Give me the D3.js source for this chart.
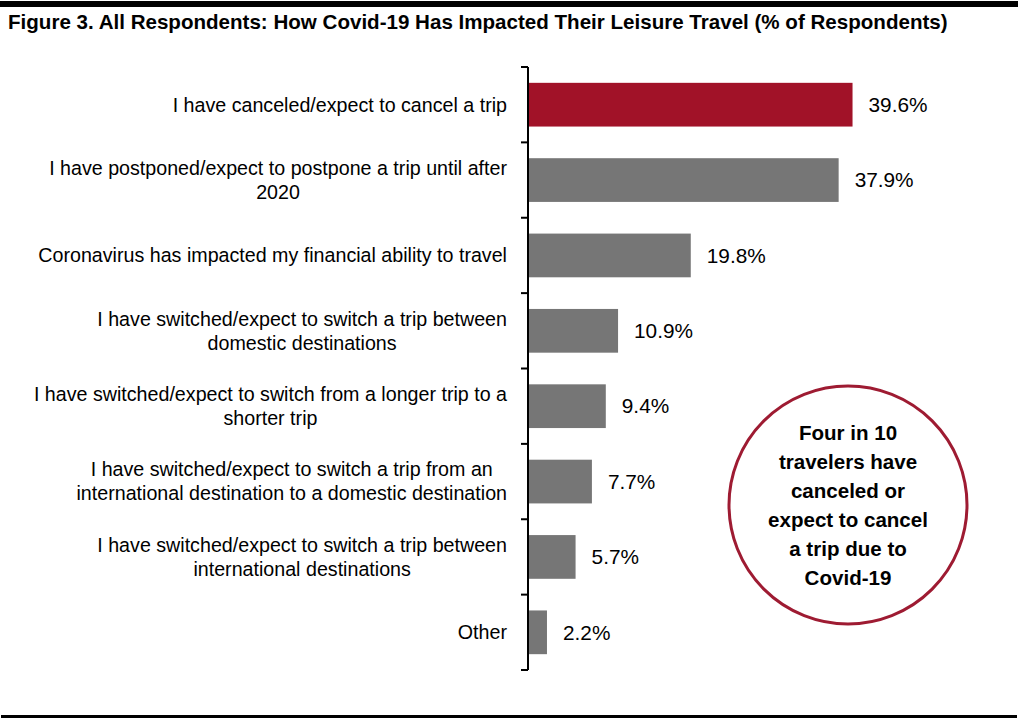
<!DOCTYPE html>
<html><head><meta charset="utf-8">
<script src="https://cdn.jsdelivr.net/npm/d3@7"></script>
<style>body{margin:0;background:#fff}svg{display:block}text{font-family:"Liberation Sans",Arial,sans-serif}</style>
</head><body><svg id="c" width="1018" height="720"></svg>
<script>
const categories = [
  ["I have canceled/expect to cancel a trip"],
  ["I have postponed/expect to postpone a trip until after","2020"],
  ["Coronavirus has impacted my financial ability to travel"],
  ["I have switched/expect to switch a trip between","domestic destinations"],
  ["I have switched/expect to switch from a longer trip to a","shorter trip"],
  ["I have switched/expect to switch a trip from an","international destination to a domestic destination"],
  ["I have switched/expect to switch a trip between","international destinations"],
  ["Other"]
];
const values = [39.6, 37.9, 19.8, 10.9, 9.4, 7.7, 5.7, 2.2];
const title = "Figure 3. All Respondents: How Covid-19 Has Impacted Their Leisure Travel (% of Respondents)";
const calloutLines = ["Four in 10","travelers have","canceled or","expect to cancel","a trip due to","Covid-19"];

const svg = d3.select("#c");
const W = 1018;
const red = "#A11228", grey = "#767676";

// frame lines
svg.append("rect").attr("x",0).attr("y",1).attr("width",W).attr("height",6).attr("fill","#000");
svg.append("rect").attr("x",1).attr("y",715).attr("width",1016).attr("height",3).attr("fill","#000");

function fit(sel, target){
  const w = sel.node().getComputedTextLength();
  const fs = parseFloat(sel.attr("font-size"));
  sel.attr("font-size", fs*target/w);
  return fs*target/w;
}

const t = svg.append("text").attr("x",8).attr("y",29).attr("font-size",20).attr("font-weight","bold").text(title);
fit(t, 940);

const x0 = 529;
const x = d3.scaleLinear().domain([0, 40]).range([x0, x0 + 40*8.17]);
const y = d3.scaleBand().domain(d3.range(categories.length)).range([67, 670]).paddingInner(0.42).paddingOuter(0.21);

// axis
const axisG = svg.append("g").attr("transform",`translate(${x0-1},0)`);
const ax = d3.axisLeft(y).tickSize(0).tickFormat("");
axisG.call(ax);
axisG.select(".domain").remove();
const bounds = d3.range(categories.length+1).map(i => 67 + i*y.step());
axisG.append("line").attr("x1",0).attr("x2",0).attr("y1",67).attr("y2",670).attr("stroke","#000").attr("stroke-width",2);
axisG.selectAll("line.tk").data(bounds).join("line").attr("class","tk")
  .attr("x1",-7).attr("x2",0).attr("y1",d=>d).attr("y2",d=>d).attr("stroke","#000").attr("stroke-width",2);

// bars
svg.selectAll("rect.bar").data(values).join("rect").attr("class","bar")
  .attr("x", x(0)).attr("y",(d,i)=>y(i)).attr("width",d=>x(d)-x(0)).attr("height",y.bandwidth())
  .attr("fill",(d,i)=> i===0 ? red : grey);

// value labels
const vl = svg.selectAll("text.val").data(values).join("text").attr("class","val")
  .attr("x",d=>x(d)+16).attr("y",(d,i)=>y(i)+y.bandwidth()/2).attr("dy","0.35em")
  .attr("font-size",20).attr("fill","#000").text(d=>d.toFixed(1)+"%");
{
  const w = vl.filter((d,i)=>i===2).node().getComputedTextLength();
  vl.attr("font-size", 20*59/w);
}

// category labels
const lh = 24;
const cg = svg.selectAll("g.cat").data(categories).join("g").attr("class","cat");
cg.each(function(lines,i){
  const g = d3.select(this);
  const cy = y(i)+y.bandwidth()/2;
  lines.forEach((s,j)=>{
    g.append("text").attr("y", cy + (j-(lines.length-1)/2)*lh).attr("dy","0.35em")
      .attr("text-anchor","middle").attr("font-size",18).attr("fill","#000").text(s);
  });
});
{
  const ref = cg.filter((d,i)=>i===2).select("text").node().getComputedTextLength();
  const fs = 18*469/ref;
  cg.selectAll("text").attr("font-size",fs);
  cg.each(function(){
    const g = d3.select(this);
    let m = 0; g.selectAll("text").each(function(){ m = Math.max(m, this.getComputedTextLength()); });
    g.selectAll("text").attr("x", 507 - m/2);
  });
}

// callout circle
const cx = 848, cy = 505, r = 119;
svg.append("circle").attr("cx",cx).attr("cy",cy).attr("r",r).attr("fill","#fff").attr("stroke","#9E1B32").attr("stroke-width",3);
const ct = svg.selectAll("text.co").data(calloutLines).join("text").attr("class","co")
  .attr("x",cx).attr("y",(d,i)=>433 + i*29).attr("dy","0.35em").attr("text-anchor","middle")
  .attr("font-size",20).attr("font-weight","bold").attr("fill","#000").text(d=>d);
{
  const w = ct.filter((d,i)=>i===3).node().getComputedTextLength();
  ct.attr("font-size", 20*160/w);
}
</script></body></html>
